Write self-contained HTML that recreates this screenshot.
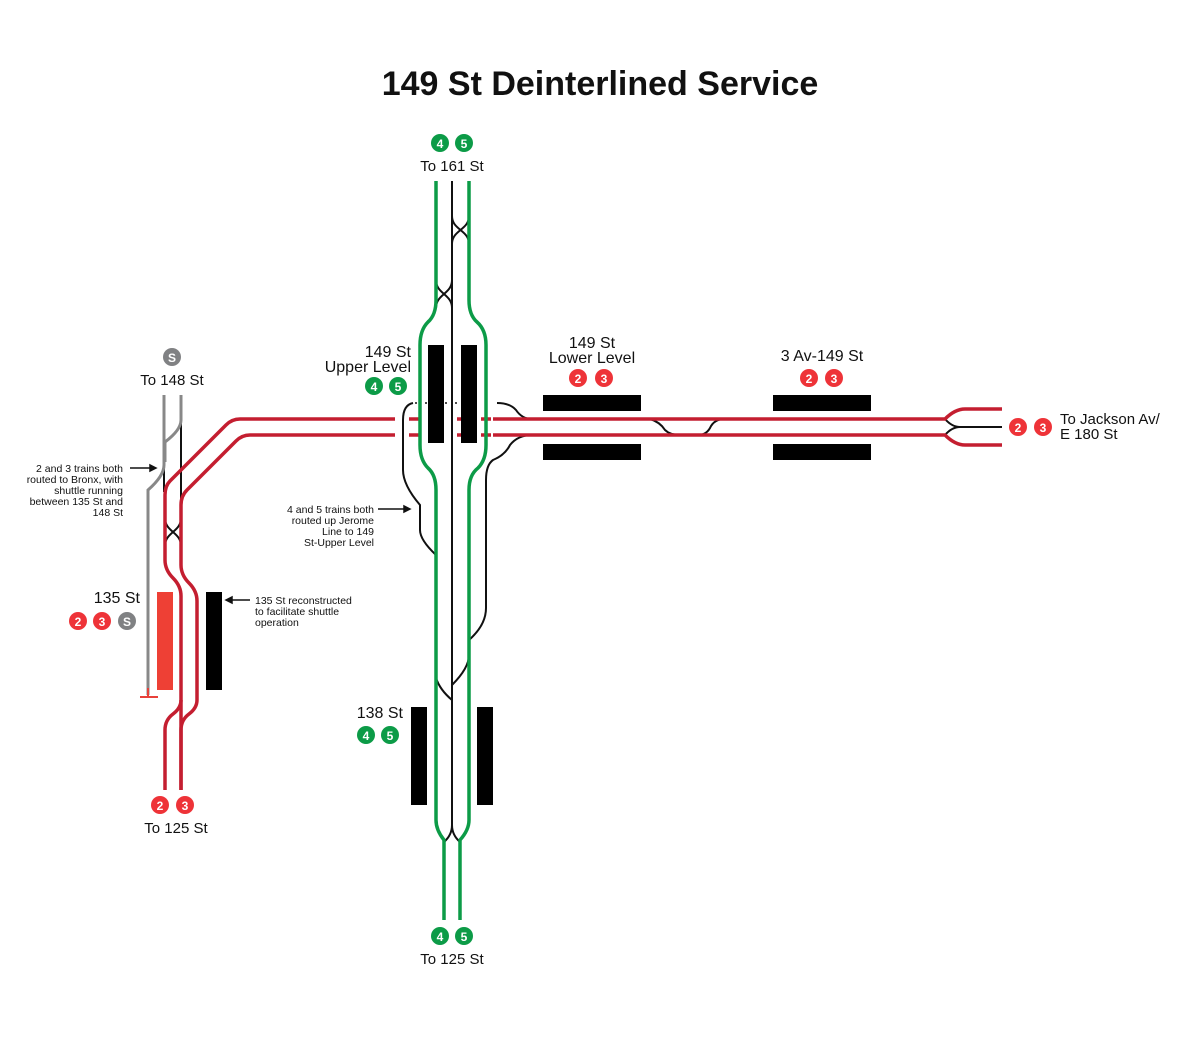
<!DOCTYPE html>
<html><head><meta charset="utf-8"><style>
html,body{margin:0;padding:0;background:#fff;}
svg{display:block;font-family:"Liberation Sans",sans-serif;}
</style></head><body>
<svg width="1200" height="1052" viewBox="0 0 1200 1052" xmlns="http://www.w3.org/2000/svg">
<text x="600" y="95" text-anchor="middle" font-size="34" font-weight="bold" fill="#111">149 St Deinterlined Service</text>

<g fill="none" stroke-linecap="butt">
<g stroke="#111" stroke-width="2">
<line x1="452" y1="181" x2="452" y2="825"/>
<path d="M452 825 Q452 835 444 842"/><path d="M452 825 Q452 835 460 842"/>
<path d="M452 216 C452 230 469 230 469 244"/><path d="M469 216 C469 230 452 230 452 244"/>
<path d="M436 280 C436 294 452 294 452 308"/><path d="M452 280 C452 294 436 294 436 308"/>
<path d="M181 420 L181 500"/><path d="M164 462 L164 492"/>
<path d="M165 518 C165 532 181 532 181 546"/><path d="M181 518 C181 532 165 532 165 546"/>
<path d="M413 403 Q403 405 403 420 L403 470 Q403 485 420 505 L420 530 Q420 540 436 555"/>
<path d="M497 403 Q510 403 516 410 Q522 419 532 419"/>
<path d="M532 435 Q518 435 510 445 Q505 455 493 460 Q486 465 486 480 L486 608 Q486 625 469 640"/>
<path d="M436 678 Q440 690 452 700"/><path d="M469 655 Q469 668 452 685"/>
<path d="M650 419 Q660 422 665 430 Q670 435 680 435"/>
<path d="M698 435 Q706 435 710 428 Q714 419 725 419"/>
<path d="M945 419 Q952 427 960 427 L1002 427"/><path d="M945 435 Q952 427 960 427"/>
<line x1="415" y1="403" x2="493" y2="403" stroke-dasharray="2 8" stroke-width="1.5"/>
</g>
<g stroke="#888" stroke-width="3">
<path d="M164 395 L164 465 Q164 476 148 490 L148 695"/>
<path d="M181 395 L181 420 Q181 430 165 442 L165 462"/>
</g>
<line x1="140" y1="697" x2="158" y2="697" stroke="#e8413a" stroke-width="2"/>
<line x1="148" y1="688" x2="148" y2="697" stroke="#e8413a" stroke-width="2"/>
<g stroke="#c41e30" stroke-width="3.5">
<path d="M395 419 L240 419 Q232 419 226 425 L170 481 Q165 486 165 495 L165 560 Q165 570 173 578 Q181 586 181 596 L181 790"/>
<path d="M395 435 L250 435 Q242 435 236 441 L187 490 Q181 496 181 505 L181 565 Q181 575 189 583 Q197 591 197 601 L197 700 Q197 708 189 714 Q181 720 181 730 L181 790" />
<path d="M493 419 L945 419 Q955 409 965 409 L1002 409"/>
<path d="M493 435 L945 435 Q955 445 965 445 L1002 445"/>
<path d="M395 419 L493 419 M395 435 L493 435" stroke-dasharray="10 14" stroke-dashoffset="-14"/>
</g>
<path d="M181 700 Q181 708 173 714 Q165 720 165 730 L165 790" stroke="#c41e30" stroke-width="3.5"/>
<g stroke="#0c9b47" stroke-width="3.5">
<path d="M436 181 L436 300 Q436 315 428 322 Q420 330 420 345 L420 445 Q420 460 428 468 Q436 475 436 490 L436 820 Q436 830 444 840 L444 920"/>
<path d="M469 181 L469 300 Q469 315 477 322 Q486 330 486 345 L486 445 Q486 460 478 468 Q469 475 469 490 L469 820 Q469 830 460 840 L460 920"/>
</g>
</g>
<g fill="#000">
<rect x="428" y="345" width="16" height="98"/><rect x="461" y="345" width="16" height="98"/>
<rect x="411" y="707" width="16" height="98"/><rect x="477" y="707" width="16" height="98"/>
<rect x="543" y="395" width="98" height="16"/><rect x="543" y="444" width="98" height="16"/>
<rect x="773" y="395" width="98" height="16"/><rect x="773" y="444" width="98" height="16"/>
<rect x="206" y="592" width="16" height="98"/>
</g>
<rect x="157" y="592" width="16" height="98" fill="#ee4035"/>

<g font-size="12" font-weight="bold" fill="#fff" text-anchor="middle">
<g fill="#0c9b47"><circle cx="440" cy="143" r="9"/><circle cx="464" cy="143" r="9"/><circle cx="374" cy="386" r="9"/><circle cx="398" cy="386" r="9"/><circle cx="366" cy="735" r="9"/><circle cx="390" cy="735" r="9"/><circle cx="440" cy="936" r="9"/><circle cx="464" cy="936" r="9"/></g>
<g fill="#ee3338"><circle cx="578" cy="378" r="9"/><circle cx="604" cy="378" r="9"/><circle cx="809" cy="378" r="9"/><circle cx="834" cy="378" r="9"/><circle cx="1018" cy="427" r="9"/><circle cx="1043" cy="427" r="9"/><circle cx="160" cy="805" r="9"/><circle cx="185" cy="805" r="9"/><circle cx="78" cy="621" r="9"/><circle cx="102" cy="621" r="9"/></g>
<g fill="#808183"><circle cx="172" cy="357" r="9"/><circle cx="127" cy="621" r="9"/></g>
<text x="440" y="148">4</text><text x="464" y="148">5</text><text x="374" y="391">4</text><text x="398" y="391">5</text><text x="366" y="740">4</text><text x="390" y="740">5</text><text x="440" y="941">4</text><text x="464" y="941">5</text>
<text x="578" y="383">2</text><text x="604" y="383">3</text><text x="809" y="383">2</text><text x="834" y="383">3</text><text x="1018" y="432">2</text><text x="1043" y="432">3</text><text x="160" y="810">2</text><text x="185" y="810">3</text><text x="78" y="626">2</text><text x="102" y="626">3</text><text x="172" y="362">S</text><text x="127" y="626">S</text>
</g>

<g font-size="15" fill="#111">
<text x="452" y="171" text-anchor="middle">To 161 St</text>
<text x="172" y="385" text-anchor="middle">To 148 St</text>
<text x="411" y="357" text-anchor="end" font-size="16">149 St</text>
<text x="411" y="372" text-anchor="end" font-size="16">Upper Level</text>
<text x="592" y="348" text-anchor="middle" font-size="16">149 St</text>
<text x="592" y="363" text-anchor="middle" font-size="16">Lower Level</text>
<text x="822" y="361" text-anchor="middle" font-size="16">3 Av-149 St</text>
<text x="1060" y="424">To Jackson Av/</text>
<text x="1060" y="439">E 180 St</text>
<text x="140" y="603" text-anchor="end" font-size="16">135 St</text>
<text x="403" y="718" text-anchor="end" font-size="16">138 St</text>
<text x="176" y="833" text-anchor="middle">To 125 St</text>
<text x="452" y="964" text-anchor="middle">To 125 St</text>
</g>
<g font-size="10.5" fill="#111">
<text x="123" y="472" text-anchor="end">2 and 3 trains both</text>
<text x="123" y="483" text-anchor="end">routed to Bronx, with</text>
<text x="123" y="494" text-anchor="end">shuttle running</text>
<text x="123" y="505" text-anchor="end">between 135 St and</text>
<text x="123" y="516" text-anchor="end">148 St</text>
<text x="374" y="513" text-anchor="end">4 and 5 trains both</text>
<text x="374" y="524" text-anchor="end">routed up Jerome</text>
<text x="374" y="535" text-anchor="end">Line to 149</text>
<text x="374" y="546" text-anchor="end">St-Upper Level</text>
<text x="255" y="604">135 St reconstructed</text>
<text x="255" y="615">to facilitate shuttle</text>
<text x="255" y="626">operation</text>
</g>
<g stroke="#111" stroke-width="1.5" fill="#111">
<line x1="130" y1="468" x2="152" y2="468"/><path d="M156 468 L150 465 L150 471Z"/>
<line x1="378" y1="509" x2="406" y2="509"/><path d="M410 509 L404 506 L404 512Z"/>
<line x1="250" y1="600" x2="230" y2="600"/><path d="M226 600 L232 597 L232 603Z"/>
</g>
</svg>
</body></html>
